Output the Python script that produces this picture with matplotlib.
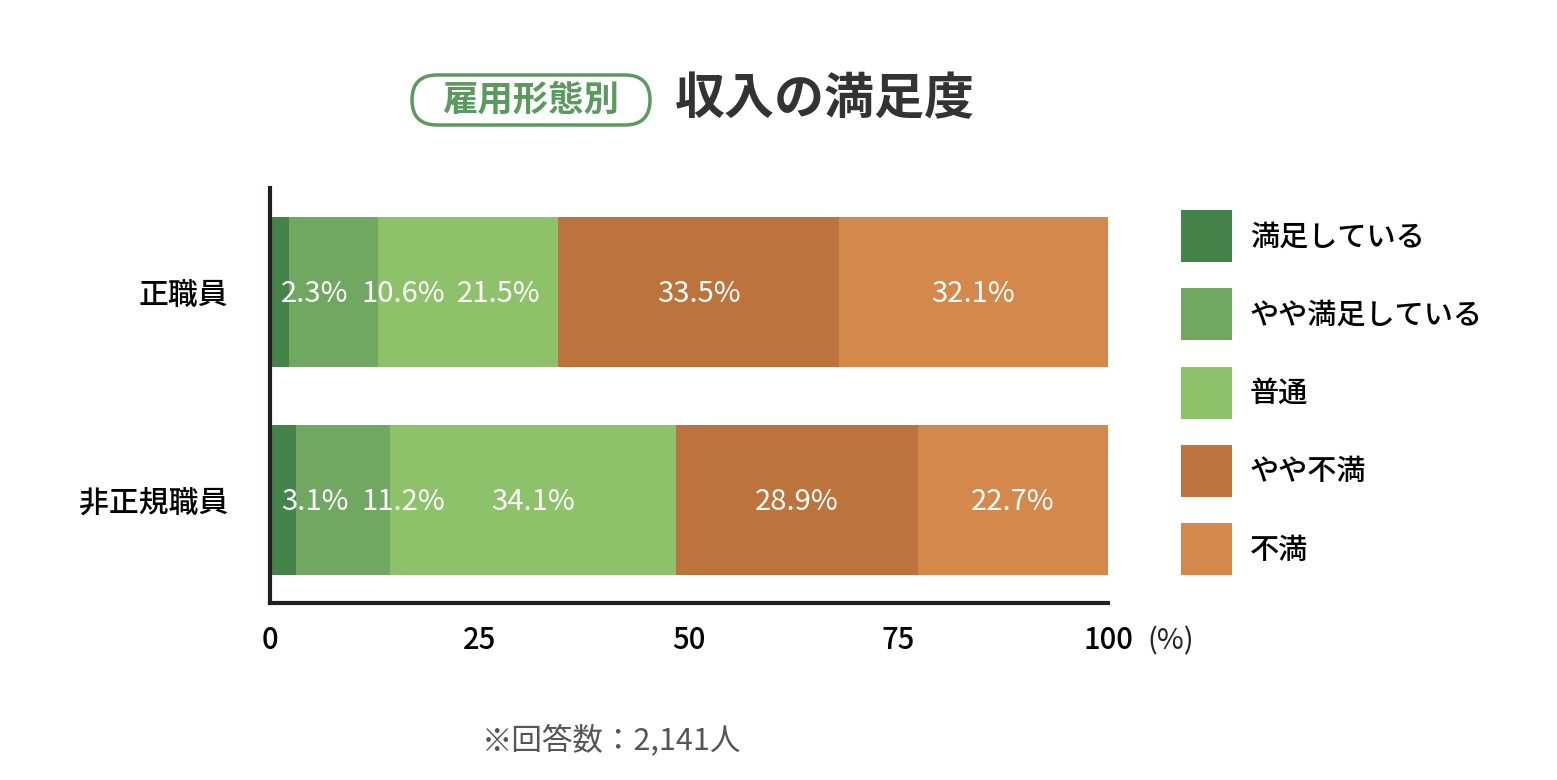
import matplotlib
matplotlib.use('Agg')
import matplotlib.pyplot as plt
from matplotlib.patches import FancyBboxPatch, Rectangle
import numpy as np

plt.rcParams['font.family'] = ['Noto Sans CJK JP', 'DejaVu Sans']

# data
groups = ['正職員', '非正規職員']
answers = ['満足している', 'やや満足している', '普通', 'やや不満', '不満']
values = np.array([
    [2.3, 10.6, 21.5, 33.5, 32.1],
    [3.1, 11.2, 34.1, 28.9, 22.7],
])
colors = ['#44844a', '#70a862', '#8dc26b', '#bd733c', '#d4884c']
xticks = [0, 25, 50, 75, 100]

fig = plt.figure(figsize=(15.57, 7.8), dpi=100)

# overlay in pixel units for title, legend and note
ov = fig.add_axes([0, 0, 1, 1])
ov.set_xlim(0, 1557)
ov.set_ylim(780, 0)
ov.axis('off')

ax = fig.add_axes([0.1734, 0.2269, 0.5382, 0.532])

ypos = [1, 0]
for i, row in enumerate(values):
    left = 0
    for j, v in enumerate(row):
        ax.barh(ypos[i], v, left=left, height=0.72, color=colors[j], linewidth=0)
        left += v

ax.set_xlim(0, 100)
ax.set_ylim(-0.495, 1.5)
ax.set_yticks(ypos)
ax.set_yticklabels(groups, fontsize=21.5, weight='medium')
ax.set_xticks(xticks)
ax.set_xticklabels([str(t) for t in xticks], fontsize=21, weight='medium')
ax.tick_params(length=0)
ax.tick_params(axis='y', pad=30)
ax.tick_params(axis='x', pad=16)
for s in ['top', 'right']:
    ax.spines[s].set_visible(False)
for s in ['left', 'bottom']:
    ax.spines[s].set_linewidth(3)
    ax.spines[s].set_color('#231f20')
ov.text(1171, 641, '(%)', fontsize=21, ha='center', va='center', color='#222')

# value labels, pushed right when they would overlap
fig.canvas.draw()
renderer = fig.canvas.get_renderer()
inv = ax.transData.inverted()
for i, row in enumerate(values):
    left = 0
    prev_right = 1.3 - 1.5
    for j, v in enumerate(row):
        t = ax.text(0, ypos[i] - 0.01, f'{v}%', fontsize=21, color='white',
                    ha='left', va='center')
        bb = t.get_window_extent(renderer)
        w = inv.transform((bb.x1, 0))[0] - inv.transform((bb.x0, 0))[0]
        x0 = max(left + v / 2 - w / 2, prev_right + 1.5)
        t.set_x(x0)
        prev_right = x0 + w
        left += v

# legend
for j, name in enumerate(answers):
    yc = 236 + j * 78.3
    ov.add_patch(Rectangle((1181, yc - 26), 51, 52, color=colors[j], lw=0))
    ov.text(1250, yc + 1, name, fontsize=21, weight='medium', va='center', ha='left')

# title
ov.add_patch(FancyBboxPatch((412, 75), 238, 50,
                            boxstyle='round,pad=0,rounding_size=25',
                            fc='white', ec='#5a9a5f', lw=2.5))
ov.text(531, 100, '雇用形態別', fontsize=25.5, weight='bold',
        color='#5a9a5f', ha='center', va='center')
ov.text(675, 100, '収入の満足度', fontsize=36, weight='bold',
        color='#333333', ha='left', va='center')

ov.text(611, 740, '※回答数：2,141人', fontsize=22,
        color='#555555', ha='center', va='center')

plt.savefig('out.png', dpi=100)
